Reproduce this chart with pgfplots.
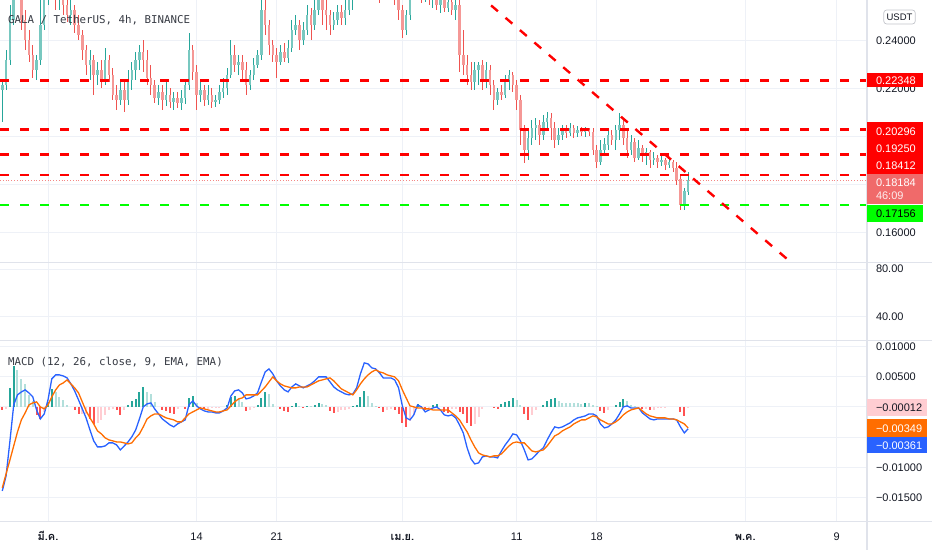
\documentclass[border=0pt]{standalone}
\usepackage{pgfplots}
\pgfplotsset{compat=1.18}
\usepackage{pgfplotstable}
\usepackage{fontspec}
\setmainfont{Liberation Sans}
\newfontfamily\monofont{DejaVu Sans Mono}
\newfontfamily\thaifont[Script=Thai]{Loma}
\definecolor{txtc}{HTML}{131722}
\definecolor{gridc}{HTML}{EEF1F7}
\definecolor{sepc}{HTML}{E0E3EB}
\definecolor{upc}{HTML}{26A69A}
\definecolor{dnc}{HTML}{EF5350}
\colorlet{upb}{upc!62!white}
\colorlet{dnb}{dnc!60!white}
\definecolor{hup}{HTML}{26A69A}
\definecolor{hupl}{HTML}{B2DFDB}
\definecolor{hdn}{HTML}{FF5252}
\definecolor{hdnl}{HTML}{FFCDD2}
\definecolor{macdc}{HTML}{2962FF}
\definecolor{sigc}{HTML}{FF6D00}
\definecolor{lvred}{HTML}{FF0000}
\definecolor{lvgreen}{HTML}{00FF00}
\definecolor{curc}{HTML}{F06A6A}
\newcommand\axf{\fontsize{11}{13}\selectfont}
\newcommand\thaib{\thaifont\bfseries}

\pgfplotstableread{
d o h l c m s hs hc
-4.00 0.2196 0.2237 0.2062 0.2217 -0.01391 -0.01341 -0.00050 2
-3.67 0.2217 0.2362 0.2196 0.2321 -0.01143 -0.01110 -0.00033 3
-3.33 0.2321 0.2550 0.2300 0.2487 -0.00563 -0.00878 0.00315 0
-3.00 0.2487 0.2654 0.2467 0.2612 0.00033 -0.00646 0.00679 0
-2.67 0.2612 0.2675 0.2571 0.2592 0.00199 -0.00414 0.00613 1
-2.33 0.2592 0.2633 0.2446 0.2487 0.00248 -0.00215 0.00464 1
-2.00 0.2487 0.2529 0.2362 0.2404 0.00282 -0.00099 0.00381 1
-1.67 0.2404 0.2446 0.2312 0.2342 0.00232 0.00033 0.00199 1
-1.33 0.2342 0.2383 0.2246 0.2279 0.00166 0.00066 0.00099 1
-1.00 0.2279 0.2342 0.2237 0.2321 -0.00050 0.00083 -0.00132 2
-0.67 0.2321 0.2571 0.2300 0.2467 -0.00199 0.00000 -0.00199 2
-0.33 0.2467 0.2654 0.2446 0.2592 -0.00116 -0.00033 -0.00083 3
0.00 0.2592 0.2696 0.2550 0.2633 0.00116 0.00033 0.00083 0
0.33 0.2633 0.2696 0.2571 0.2612 0.00464 0.00166 0.00298 0
0.67 0.2612 0.2654 0.2529 0.2571 0.00530 0.00282 0.00248 1
1.00 0.2571 0.2633 0.2529 0.2592 0.00530 0.00364 0.00166 1
1.33 0.2592 0.2633 0.2508 0.2550 0.00513 0.00397 0.00116 1
1.67 0.2550 0.2592 0.2479 0.2508 0.00480 0.00447 0.00033 1
2.00 0.2508 0.2571 0.2467 0.2529 0.00381 0.00381 0.00000 1
2.33 0.2529 0.2550 0.2433 0.2467 0.00265 0.00315 -0.00050 2
2.67 0.2467 0.2508 0.2404 0.2425 0.00116 0.00232 -0.00116 2
3.00 0.2425 0.2446 0.2321 0.2362 -0.00033 0.00083 -0.00116 3
3.33 0.2362 0.2383 0.2258 0.2300 -0.00182 -0.00066 -0.00116 3
3.67 0.2300 0.2362 0.2237 0.2321 -0.00381 -0.00182 -0.00199 2
4.00 0.2321 0.2342 0.2175 0.2258 -0.00563 -0.00282 -0.00282 2
4.33 0.2258 0.2312 0.2217 0.2279 -0.00662 -0.00397 -0.00265 3
4.67 0.2279 0.2321 0.2204 0.2237 -0.00662 -0.00447 -0.00215 3
5.00 0.2237 0.2371 0.2217 0.2321 -0.00646 -0.00513 -0.00132 3
5.33 0.2321 0.2342 0.2229 0.2258 -0.00596 -0.00546 -0.00050 3
5.67 0.2258 0.2287 0.2154 0.2175 -0.00596 -0.00563 -0.00033 3
6.00 0.2175 0.2217 0.2112 0.2154 -0.00629 -0.00580 -0.00050 2
6.33 0.2154 0.2237 0.2133 0.2196 -0.00712 -0.00580 -0.00132 2
6.67 0.2196 0.2229 0.2104 0.2154 -0.00646 -0.00596 -0.00050 3
7.00 0.2154 0.2279 0.2133 0.2237 -0.00580 -0.00613 0.00033 0
7.33 0.2237 0.2312 0.2196 0.2279 -0.00497 -0.00596 0.00099 0
7.67 0.2279 0.2354 0.2237 0.2321 -0.00381 -0.00513 0.00132 0
8.00 0.2321 0.2383 0.2279 0.2354 -0.00199 -0.00447 0.00248 0
8.33 0.2354 0.2404 0.2271 0.2321 0.00000 -0.00331 0.00331 0
8.67 0.2321 0.2362 0.2217 0.2246 0.00050 -0.00199 0.00248 1
9.00 0.2246 0.2300 0.2175 0.2217 0.00066 -0.00149 0.00215 1
9.33 0.2217 0.2237 0.2142 0.2162 -0.00033 -0.00116 0.00083 1
9.67 0.2162 0.2217 0.2133 0.2187 -0.00116 -0.00116 0.00000 1
10.00 0.2187 0.2217 0.2112 0.2154 -0.00199 -0.00149 -0.00050 2
10.33 0.2154 0.2229 0.2129 0.2175 -0.00248 -0.00182 -0.00066 2
10.67 0.2175 0.2204 0.2121 0.2146 -0.00298 -0.00199 -0.00099 2
11.00 0.2146 0.2187 0.2112 0.2162 -0.00331 -0.00215 -0.00116 2
11.33 0.2162 0.2187 0.2121 0.2142 -0.00282 -0.00248 -0.00033 3
11.67 0.2142 0.2196 0.2112 0.2162 -0.00248 -0.00248 0.00000 0
12.00 0.2162 0.2237 0.2137 0.2217 -0.00215 -0.00182 -0.00033 2
12.33 0.2217 0.2433 0.2196 0.2362 0.00033 -0.00116 0.00149 0
12.67 0.2362 0.2383 0.2237 0.2271 0.00099 -0.00083 0.00182 0
13.00 0.2271 0.2300 0.2112 0.2175 0.00017 -0.00050 0.00066 1
13.33 0.2175 0.2229 0.2146 0.2196 -0.00033 -0.00017 -0.00017 2
13.67 0.2196 0.2217 0.2129 0.2154 -0.00066 -0.00033 -0.00033 2
14.00 0.2154 0.2217 0.2133 0.2175 -0.00083 -0.00050 -0.00033 3
14.33 0.2175 0.2204 0.2121 0.2146 -0.00083 -0.00066 -0.00017 3
14.67 0.2146 0.2175 0.2125 0.2154 -0.00099 -0.00083 -0.00017 3
15.00 0.2154 0.2217 0.2137 0.2187 -0.00099 -0.00083 -0.00017 3
15.33 0.2187 0.2246 0.2162 0.2204 -0.00066 -0.00066 0.00000 0
15.67 0.2204 0.2287 0.2175 0.2258 -0.00017 -0.00050 0.00033 0
16.00 0.2258 0.2404 0.2246 0.2342 0.00182 0.00017 0.00166 0
16.33 0.2342 0.2383 0.2271 0.2300 0.00265 0.00083 0.00182 0
16.67 0.2300 0.2342 0.2258 0.2312 0.00282 0.00132 0.00149 1
17.00 0.2312 0.2342 0.2237 0.2279 0.00232 0.00149 0.00083 1
17.33 0.2279 0.2312 0.2175 0.2217 0.00132 0.00199 -0.00066 2
17.67 0.2217 0.2279 0.2196 0.2258 0.00149 0.00199 -0.00050 3
18.00 0.2258 0.2329 0.2237 0.2300 0.00182 0.00199 -0.00017 3
18.33 0.2300 0.2362 0.2287 0.2342 0.00232 0.00199 0.00033 0
18.67 0.2342 0.2633 0.2321 0.2529 0.00414 0.00265 0.00149 0
19.00 0.2529 0.2592 0.2425 0.2467 0.00580 0.00331 0.00248 0
19.33 0.2467 0.2487 0.2342 0.2383 0.00629 0.00414 0.00215 1
19.67 0.2383 0.2404 0.2312 0.2342 0.00546 0.00497 0.00050 1
20.00 0.2342 0.2371 0.2246 0.2312 0.00431 0.00431 0.00000 1
20.33 0.2312 0.2383 0.2300 0.2354 0.00348 0.00381 -0.00033 2
20.67 0.2354 0.2392 0.2312 0.2329 0.00282 0.00348 -0.00066 2
21.00 0.2329 0.2404 0.2308 0.2371 0.00248 0.00331 -0.00083 2
21.33 0.2371 0.2487 0.2354 0.2446 0.00331 0.00315 0.00017 0
21.67 0.2446 0.2508 0.2425 0.2467 0.00381 0.00315 0.00066 0
22.00 0.2467 0.2487 0.2362 0.2404 0.00348 0.00331 0.00017 1
22.33 0.2404 0.2479 0.2383 0.2446 0.00315 0.00331 -0.00017 2
22.67 0.2446 0.2550 0.2425 0.2508 0.00348 0.00331 0.00017 0
23.00 0.2508 0.2537 0.2404 0.2467 0.00381 0.00364 0.00017 1
23.33 0.2467 0.2571 0.2446 0.2529 0.00431 0.00397 0.00033 0
23.67 0.2529 0.2612 0.2508 0.2571 0.00497 0.00431 0.00066 0
24.00 0.2571 0.2592 0.2467 0.2529 0.00497 0.00447 0.00050 1
24.33 0.2529 0.2571 0.2446 0.2508 0.00497 0.00464 0.00033 1
24.67 0.2508 0.2529 0.2425 0.2467 0.00414 0.00480 -0.00066 2
25.00 0.2467 0.2521 0.2446 0.2487 0.00331 0.00431 -0.00099 2
25.33 0.2487 0.2550 0.2467 0.2521 0.00282 0.00364 -0.00083 3
25.67 0.2521 0.2550 0.2467 0.2496 0.00248 0.00298 -0.00050 3
26.00 0.2496 0.2571 0.2467 0.2529 0.00215 0.00265 -0.00050 3
26.33 0.2529 0.2612 0.2508 0.2571 0.00199 0.00232 -0.00033 3
26.67 0.2571 0.2654 0.2529 0.2612 0.00215 0.00199 0.00017 0
27.00 0.2612 0.2696 0.2592 0.2654 0.00315 0.00282 0.00033 0
27.33 0.2654 0.2738 0.2633 0.2696 0.00546 0.00381 0.00166 0
27.67 0.2696 0.2779 0.2675 0.2738 0.00729 0.00464 0.00265 0
28.00 0.2738 0.2800 0.2675 0.2717 0.00712 0.00530 0.00182 1
28.33 0.2717 0.2758 0.2633 0.2675 0.00646 0.00580 0.00066 1
28.67 0.2675 0.2717 0.2612 0.2654 0.00629 0.00613 0.00017 1
29.00 0.2654 0.2687 0.2558 0.2612 0.00563 0.00580 -0.00017 2
29.33 0.2612 0.2675 0.2571 0.2633 0.00480 0.00563 -0.00083 2
29.67 0.2633 0.2696 0.2592 0.2654 0.00480 0.00530 -0.00050 3
30.00 0.2654 0.2696 0.2592 0.2633 0.00480 0.00513 -0.00033 3
30.33 0.2633 0.2654 0.2550 0.2592 0.00447 0.00497 -0.00050 2
30.67 0.2592 0.2612 0.2487 0.2529 0.00315 0.00431 -0.00116 2
31.00 0.2529 0.2550 0.2412 0.2446 0.00017 0.00282 -0.00265 2
31.33 0.2446 0.2529 0.2425 0.2508 -0.00182 0.00149 -0.00331 2
31.67 0.2508 0.2633 0.2487 0.2592 -0.00215 0.00017 -0.00232 3
32.00 0.2592 0.2675 0.2571 0.2633 -0.00132 0.00000 -0.00132 3
32.33 0.2633 0.2675 0.2579 0.2612 0.00033 -0.00017 0.00050 0
32.67 0.2612 0.2654 0.2558 0.2592 0.00000 -0.00017 0.00017 1
33.00 0.2592 0.2654 0.2562 0.2612 -0.00083 -0.00033 -0.00050 2
33.33 0.2612 0.2633 0.2550 0.2571 -0.00050 -0.00033 -0.00017 3
33.67 0.2571 0.2633 0.2537 0.2592 -0.00017 -0.00050 0.00033 0
34.00 0.2592 0.2612 0.2529 0.2550 0.00000 -0.00050 0.00050 0
34.33 0.2550 0.2612 0.2517 0.2571 -0.00050 -0.00050 0.00000 1
34.67 0.2571 0.2592 0.2521 0.2537 -0.00132 -0.00050 -0.00083 2
35.00 0.2537 0.2592 0.2521 0.2562 -0.00149 -0.00050 -0.00099 2
35.33 0.2562 0.2592 0.2508 0.2529 -0.00132 -0.00099 -0.00033 3
35.67 0.2529 0.2579 0.2487 0.2550 -0.00182 -0.00149 -0.00033 3
36.00 0.2550 0.2571 0.2271 0.2342 -0.00298 -0.00215 -0.00083 2
36.33 0.2342 0.2446 0.2258 0.2300 -0.00431 -0.00315 -0.00116 2
36.67 0.2300 0.2342 0.2217 0.2258 -0.00679 -0.00414 -0.00265 2
37.00 0.2258 0.2312 0.2196 0.2229 -0.00861 -0.00546 -0.00315 2
37.33 0.2229 0.2312 0.2196 0.2279 -0.00944 -0.00662 -0.00282 3
37.67 0.2279 0.2312 0.2217 0.2300 -0.00927 -0.00762 -0.00166 3
38.00 0.2300 0.2321 0.2196 0.2237 -0.00828 -0.00795 -0.00033 3
38.33 0.2237 0.2312 0.2204 0.2279 -0.00811 -0.00811 0.00000 0
38.67 0.2279 0.2300 0.2175 0.2217 -0.00828 -0.00828 0.00000 1
39.00 0.2217 0.2237 0.2112 0.2154 -0.00828 -0.00811 -0.00017 2
39.33 0.2154 0.2204 0.2133 0.2187 -0.00845 -0.00811 -0.00033 2
39.67 0.2187 0.2217 0.2154 0.2175 -0.00729 -0.00778 0.00050 0
40.00 0.2175 0.2258 0.2162 0.2237 -0.00629 -0.00712 0.00083 0
40.33 0.2237 0.2279 0.2196 0.2258 -0.00546 -0.00646 0.00099 0
40.67 0.2258 0.2271 0.2187 0.2217 -0.00447 -0.00596 0.00149 0
41.00 0.2217 0.2237 0.2112 0.2154 -0.00464 -0.00580 0.00116 1
41.33 0.2154 0.2175 0.1967 0.2029 -0.00563 -0.00596 0.00033 1
41.67 0.2029 0.2050 0.1892 0.1946 -0.00712 -0.00596 -0.00116 2
42.00 0.1946 0.2029 0.1904 0.1996 -0.00878 -0.00662 -0.00215 2
42.33 0.1996 0.2071 0.1967 0.2037 -0.00861 -0.00729 -0.00132 3
42.67 0.2037 0.2079 0.1987 0.2050 -0.00795 -0.00745 -0.00050 3
43.00 0.2050 0.2071 0.1967 0.2008 -0.00729 -0.00729 0.00000 0
43.33 0.2008 0.2092 0.1987 0.2062 -0.00679 -0.00712 0.00033 0
43.67 0.2062 0.2104 0.2029 0.2079 -0.00546 -0.00646 0.00099 0
44.00 0.2079 0.2100 0.1987 0.2037 -0.00431 -0.00563 0.00132 0
44.33 0.2037 0.2062 0.1954 0.1987 -0.00331 -0.00480 0.00149 0
44.67 0.1987 0.2037 0.1967 0.2008 -0.00348 -0.00447 0.00099 1
45.00 0.2008 0.2050 0.1987 0.2029 -0.00331 -0.00397 0.00066 1
45.33 0.2029 0.2050 0.1996 0.2017 -0.00298 -0.00364 0.00066 1
45.67 0.2017 0.2058 0.2004 0.2037 -0.00265 -0.00331 0.00066 1
46.00 0.2037 0.2050 0.1996 0.2017 -0.00215 -0.00282 0.00066 1
46.33 0.2017 0.2046 0.2000 0.2029 -0.00182 -0.00248 0.00066 1
46.67 0.2029 0.2042 0.2004 0.2021 -0.00166 -0.00215 0.00050 1
47.00 0.2021 0.2042 0.2000 0.2029 -0.00149 -0.00215 0.00066 0
47.33 0.2029 0.2037 0.2004 0.2021 -0.00116 -0.00182 0.00066 1
47.67 0.2021 0.2037 0.1925 0.1946 -0.00116 -0.00149 0.00033 1
48.00 0.1946 0.1967 0.1871 0.1896 -0.00149 -0.00166 0.00017 1
48.33 0.1896 0.1987 0.1883 0.1946 -0.00282 -0.00215 -0.00066 2
48.67 0.1946 0.1996 0.1925 0.1967 -0.00348 -0.00248 -0.00099 2
49.00 0.1967 0.2029 0.1946 0.2008 -0.00331 -0.00282 -0.00050 3
49.33 0.2008 0.2029 0.1967 0.1987 -0.00282 -0.00282 0.00000 0
49.67 0.1987 0.2050 0.1946 0.2029 -0.00215 -0.00248 0.00033 0
50.00 0.2029 0.2100 0.1987 0.2050 -0.00116 -0.00199 0.00083 0
50.33 0.2050 0.2071 0.1967 0.1996 0.00000 -0.00132 0.00132 0
50.67 0.1996 0.2029 0.1912 0.1946 0.00017 -0.00083 0.00099 1
51.00 0.1946 0.2008 0.1925 0.1979 -0.00017 -0.00050 0.00033 1
51.33 0.1979 0.1996 0.1896 0.1912 -0.00017 -0.00033 0.00017 1
51.67 0.1912 0.1987 0.1904 0.1954 -0.00017 -0.00017 0.00000 1
52.00 0.1954 0.1967 0.1896 0.1925 -0.00099 -0.00066 -0.00033 2
52.33 0.1925 0.1954 0.1883 0.1937 -0.00149 -0.00116 -0.00033 3
52.67 0.1937 0.1946 0.1871 0.1904 -0.00199 -0.00149 -0.00050 2
53.00 0.1904 0.1937 0.1883 0.1912 -0.00215 -0.00166 -0.00050 3
53.33 0.1912 0.1925 0.1871 0.1896 -0.00199 -0.00182 -0.00017 3
53.67 0.1896 0.1925 0.1879 0.1904 -0.00199 -0.00182 -0.00017 3
54.00 0.1904 0.1912 0.1862 0.1883 -0.00199 -0.00182 -0.00017 3
54.33 0.1883 0.1912 0.1871 0.1896 -0.00199 -0.00199 0.00000 0
54.67 0.1896 0.1904 0.1854 0.1871 -0.00199 -0.00199 0.00000 1
55.00 0.1871 0.1896 0.1800 0.1821 -0.00215 -0.00215 0.00000 1
55.33 0.1821 0.1842 0.1696 0.1717 -0.00331 -0.00248 -0.00083 2
55.67 0.1717 0.1787 0.1696 0.1771 -0.00431 -0.00282 -0.00149 2
56.00 0.1771 0.1854 0.1758 0.1818 -0.00361 -0.00349 -0.00012 3
}\data

\pgfplotsset{
 tv/.style={
  scale only axis, width=867pt, anchor=north west,
  xmin=-4.2, xmax=71.65,
  axis line style={draw=none},
  major tick length=0pt,
  xmajorgrids, ymajorgrids,
  grid style={draw=gridc, line width=0.9pt},
  xtick={0,13,20,31,41,48,61,69},
  xticklabels={},
  yticklabel pos=right,
  yticklabel style={anchor=west, xshift=8.8pt, font=\axf, text=txtc, inner sep=0pt},
  scaled y ticks=false,
 },
 wick/.style={draw=none, mark=none, forget plot, restrict y to domain=0:1,
  error bars/.cd, y dir=both, y explicit, error mark=none,
  error bar style={draw=#1, line width=0.8pt, solid}},
 body/.style={draw=none, mark=none, forget plot, restrict y to domain=0:1,
  error bars/.cd, y dir=both, y explicit, error mark=none,
  error bar style={draw=#1, line width=2.5pt, solid}},
 hist/.style={ycomb, draw=#1, mark=none, line width=2pt, forget plot, restrict y to domain=-1:1},
}

\begin{document}
\begin{tikzpicture}
\useasboundingbox (0pt,0pt) rectangle (932pt,-550pt);

% price panel
\begin{axis}[tv, at={(0pt,0pt)}, height=262.3pt,
  ymin=0.1476, ymax=0.2570,
  ytick={0.16,0.18,0.2,0.22,0.24},
  yticklabels={0.16000,{},{},0.22000,0.24000}]
\addplot[wick=upc] table[x=d, y expr={\thisrow{c}>=\thisrow{o} ? 0.5*(\thisrow{h}+\thisrow{l}) : 5}, y error expr={0.5*(\thisrow{h}-\thisrow{l})}] {\data};
\addplot[wick=dnc] table[x=d, y expr={\thisrow{c}<\thisrow{o} ? 0.5*(\thisrow{h}+\thisrow{l}) : 5}, y error expr={0.5*(\thisrow{h}-\thisrow{l})}] {\data};
\addplot[body=upb] table[x=d, y expr={\thisrow{c}>=\thisrow{o} ? 0.5*(\thisrow{o}+\thisrow{c}) : 5}, y error expr={0.5*abs(\thisrow{c}-\thisrow{o})+0.00004}] {\data};
\addplot[body=dnb] table[x=d, y expr={\thisrow{c}<\thisrow{o} ? 0.5*(\thisrow{o}+\thisrow{c}) : 5}, y error expr={0.5*abs(\thisrow{c}-\thisrow{o})+0.00004}] {\data};
% horizontal levels
\addplot[lvred, line width=2.4pt, dash pattern=on 9pt off 11pt] coordinates {(-4.2,0.22348) (71.65,0.22348)};
\addplot[lvred, line width=2.4pt, dash pattern=on 9pt off 11pt] coordinates {(-4.2,0.20296) (71.65,0.20296)};
\addplot[lvred, line width=2.4pt, dash pattern=on 9pt off 11pt] coordinates {(-4.2,0.19250) (71.65,0.19250)};
\addplot[lvred, line width=2.4pt, dash pattern=on 9pt off 11pt] coordinates {(-4.2,0.18412) (71.65,0.18412)};
\addplot[lvgreen, line width=2.4pt, dash pattern=on 9pt off 11pt] coordinates {(-4.2,0.17156) (71.65,0.17156)};
\addplot[dnc!70, line width=0.8pt, dash pattern=on 1pt off 1.8pt] coordinates {(-4.2,0.18184) (71.65,0.18184)};
% trend line
\addplot[lvred, line width=2.4pt, dash pattern=on 9pt off 10pt] coordinates {(37.5,0.2599) (66,0.1435)};
\end{axis}

% empty oscillator panel
\begin{axis}[tv, at={(0pt,-262.3pt)}, height=78.4pt,
  ymin=19.9, ymax=85.6, ytick={40,80}, yticklabels={40.00,80.00}]
\end{axis}

% MACD panel
\begin{axis}[tv, at={(0pt,-340.7pt)}, height=181pt,
  ymin=-0.01901, ymax=0.01096,
  ytick={-0.015,-0.01,-0.005,0,0.005,0.01},
  yticklabels={−0.01500,−0.01000,{},{},0.00500,0.01000},
  xticklabels={{\thaib มี.ค.},14,21,{\thaib เม.ย.},11,18,{\thaib พ.ค.},9},
  xticklabel style={anchor=base, yshift=-18.3pt, font=\axf, text=txtc}]
\addplot[hist=hup] table[x=d, y expr={\thisrow{hc}==0 ? \thisrow{hs} : 5}] {\data};
\addplot[hist=hupl] table[x=d, y expr={\thisrow{hc}==1 ? \thisrow{hs} : 5}] {\data};
\addplot[hist=hdn] table[x=d, y expr={\thisrow{hc}==2 ? \thisrow{hs} : 5}] {\data};
\addplot[hist=hdnl] table[x=d, y expr={\thisrow{hc}==3 ? \thisrow{hs} : 5}] {\data};
\addplot[macdc, line width=1.3pt, mark=none] table[x=d, y=m] {\data};
\addplot[sigc, line width=1.3pt, mark=none] table[x=d, y=s] {\data};
\end{axis}

% separators
\draw[sepc, line width=1.2pt] (0pt,-262.3pt) -- (932pt,-262.3pt);
\draw[sepc, line width=1.2pt] (0pt,-340.7pt) -- (932pt,-340.7pt);
\draw[sepc, line width=1.2pt] (0pt,-521.7pt) -- (932pt,-521.7pt);
\draw[sepc, line width=1.2pt] (867pt,0pt) -- (867pt,-550pt);

% legends
\node[anchor=base west, inner sep=0pt, font=\monofont\fontsize{10.8}{13}\selectfont, text=txtc!85] at (8pt,-23pt) {GALA / TetherUS, 4h, BINANCE};
\node[anchor=base west, inner sep=0pt, font=\monofont\fontsize{10.8}{13}\selectfont, text=txtc!85] at (8pt,-365.5pt) {MACD (12, 26, close, 9, EMA, EMA)};

% USDT button
\draw[sepc!70!gray, line width=0.7pt, rounded corners=3pt, fill=white] (883.7pt,-10pt) rectangle (915.3pt,-24pt);
\node[font=\fontsize{9.5}{11}\selectfont, text=txtc, inner sep=0pt] at (899.5pt,-17pt) {USDT};

% price labels
\fill[lvred] (867pt,-72.7pt) rectangle (922.5pt,-87.3pt);
\node[anchor=base west, inner sep=0pt, font=\axf, text=white] at (875.8pt,-84pt) {0.22348};
\fill[lvred] (867pt,-122pt) rectangle (922.5pt,-174pt);
\node[anchor=base west, inner sep=0pt, font=\axf, text=white] at (875.8pt,-135pt) {0.20296};
\node[anchor=base west, inner sep=0pt, font=\axf, text=white] at (875.8pt,-152pt) {0.19250};
\node[anchor=base west, inner sep=0pt, font=\axf, text=white] at (875.8pt,-169pt) {0.18412};
\fill[curc] (867pt,-174pt) rectangle (922.5pt,-204pt);
\node[anchor=base west, inner sep=0pt, font=\axf, text=white] at (875.8pt,-186.7pt) {0.18184};
\node[anchor=base west, inner sep=0pt, font=\axf, text=white!88!curc] at (875.8pt,-199.5pt) {46:09};
\fill[lvgreen] (867pt,-205pt) rectangle (922.5pt,-222pt);
\node[anchor=base west, inner sep=0pt, font=\axf, text=black] at (875.8pt,-217.5pt) {0.17156};

% MACD labels
\fill[hdnl] (867pt,-399.3pt) rectangle (926.5pt,-416pt);
\node[anchor=base west, inner sep=0pt, font=\axf, text=txtc] at (875.8pt,-411.7pt) {−0.00012};
\fill[sigc] (867pt,-419.3pt) rectangle (926.5pt,-436.7pt);
\node[anchor=base west, inner sep=0pt, font=\axf, text=white] at (875.8pt,-432pt) {−0.00349};
\fill[macdc] (867pt,-436.7pt) rectangle (926.5pt,-453.3pt);
\node[anchor=base west, inner sep=0pt, font=\axf, text=white] at (875.8pt,-449pt) {−0.00361};
\end{tikzpicture}
\end{document}
